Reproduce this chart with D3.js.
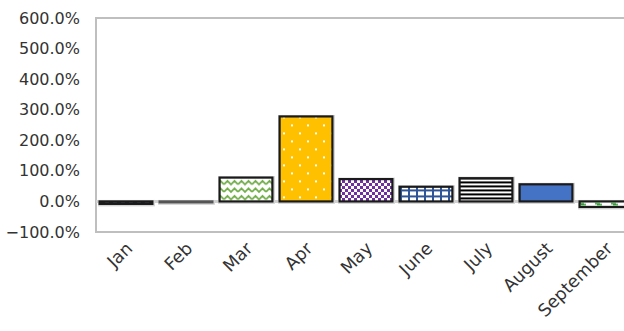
<!DOCTYPE html>
<html>
<head>
<meta charset="utf-8">
<script src="https://cdn.jsdelivr.net/npm/d3@7"></script>
<style>
  html, body { margin: 0; padding: 0; background: #fff; }
  svg { display: block; font-family: "DejaVu Sans", Verdana, sans-serif; }
</style>
</head>
<body>
<svg id="chart" width="624" height="331"></svg>
<script>
// Monthly change, as fractions (1 = 100%)
const months = ["Jan", "Feb", "Mar", "Apr", "May", "June", "July", "August", "September"];
const changes = [-0.08, -0.03, 0.78, 2.78, 0.73, 0.48, 0.76, 0.56, -0.18];
const yTicks = [-1, 0, 1, 2, 3, 4, 5, 6];
const fills = ["url(#pJan)", "url(#pFeb)", "url(#pMar)", "url(#pApr)", "url(#pMay)",
               "url(#pJun)", "url(#pJul)", "#4472C4", "url(#pSep)"];

const svg = d3.select("#chart");
const plot = { left: 96, top: 18, right: 636, bottom: 232 };

const x = d3.scaleBand().domain(months).range([plot.left, plot.right]).paddingInner(0.12).paddingOuter(0.06);
const y = d3.scaleLinear().domain([-1, 6]).range([plot.bottom, plot.top]);
const y0 = y(0);

// ---- fill patterns ----
const defs = svg.append("defs");
function pat(id, w, h, bg, oy) {
  const p = defs.append("pattern").attr("id", id).attr("patternUnits", "userSpaceOnUse")
    .attr("width", w).attr("height", h).attr("y", oy || 0);
  p.append("rect").attr("width", w).attr("height", h).attr("fill", bg);
  return p;
}
// Jan: dark with muted dashes
pat("pJan", 8, 4, "#2b2b2b", y0).append("rect").attr("x", 1).attr("y", 1).attr("width", 4).attr("height", 1).attr("fill", "#6d7f99");
// Feb: gray
pat("pFeb", 4, 4, "#7f7f7f");
// Mar: green zigzag
pat("pMar", 14, 7.5, "#fff", y0).append("path").attr("d", "M0,5.5 L3.5,2 L7,5.5 L10.5,2 L14,5.5")
  .attr("fill", "none").attr("stroke", "#70AD47").attr("stroke-width", 1.8);
// Apr: gold with white dots
{
  const p = pat("pApr", 16, 16, "#FFC000", y0);
  p.append("rect").attr("x", 3).attr("y", 3).attr("width", 2).attr("height", 2).attr("fill", "#fff");
  p.append("rect").attr("x", 11).attr("y", 11).attr("width", 2).attr("height", 2).attr("fill", "#fff");
}
// May: purple checkerboard
{
  const p = pat("pMay", 6, 6, "#fff");
  p.append("rect").attr("width", 3).attr("height", 3).attr("fill", "#7030A0");
  p.append("rect").attr("x", 3).attr("y", 3).attr("width", 3).attr("height", 3).attr("fill", "#7030A0");
}
// June: blue grid
{
  const p = pat("pJun", 8, 6, "#fff", y0);
  p.append("rect").attr("x", 0).attr("y", 0).attr("width", 8).attr("height", 2).attr("fill", "#2F5597");
  p.append("rect").attr("x", 0).attr("y", 0).attr("width", 2).attr("height", 6).attr("fill", "#2F5597");
}
// July: black horizontal stripes
pat("pJul", 4, 4, "#fff", y0).append("rect").attr("y", 0).attr("width", 4).attr("height", 2).attr("fill", "#000");
// September: white with green dashes
pat("pSep", 16, 6, "#fff", y0).append("path").attr("d", "M3,1.5 L8,1.5 L8,2.5 L10,2.5 L10,4 L5,4 L5,3 L3,3 Z").attr("fill", "#2ca02c");

// ---- plot frame ----
svg.append("rect")
  .attr("x", plot.left).attr("y", plot.top)
  .attr("width", plot.right - plot.left).attr("height", plot.bottom - plot.top)
  .attr("fill", "none").attr("stroke", "#bfbfbf").attr("stroke-width", 2);

// zero line
svg.append("line")
  .attr("x1", plot.left).attr("x2", plot.right)
  .attr("y1", y0).attr("y2", y0)
  .attr("stroke", "#d0d0d0").attr("stroke-width", 3);

// ---- bars ----
const bars = svg.append("g").selectAll("g").data(months).join("g");
// soft gray halo under each bar
bars.append("rect")
  .attr("x", d => x(d)).attr("width", x.bandwidth())
  .attr("y", (d, i) => y(Math.max(0, changes[i])))
  .attr("height", (d, i) => Math.abs(y(changes[i]) - y0))
  .attr("fill", "none").attr("stroke", "#d4d4d4").attr("stroke-width", 4)
  .attr("transform", "translate(0.5,0.5)");
bars.append("rect")
  .attr("x", d => x(d)).attr("width", x.bandwidth())
  .attr("y", (d, i) => y(Math.max(0, changes[i])))
  .attr("height", (d, i) => Math.abs(y(changes[i]) - y0))
  .attr("fill", (d, i) => fills[i])
  .attr("stroke", (d, i) => i === 1 ? "#555" : "#1a1a1a")
  .attr("stroke-width", 2.2);

// ---- y axis ----
const yAxis = svg.append("g")
  .attr("transform", `translate(${plot.left},0)`)
  .call(d3.axisLeft(y).tickValues(yTicks).tickFormat(d3.format(".1%")).tickSize(0).tickPadding(16));
yAxis.select(".domain").remove();
yAxis.selectAll("text").attr("font-size", 16).attr("fill", "#333")
  .attr("font-family", "'DejaVu Sans', Verdana, sans-serif");

// ---- x axis ----
const xAxis = svg.append("g")
  .attr("transform", `translate(0,${plot.bottom})`)
  .call(d3.axisBottom(x).tickSize(0).tickFormat(d => d));
xAxis.select(".domain").remove();
xAxis.selectAll("text")
  .attr("font-size", 17.5).attr("fill", "#333")
  .attr("font-family", "'DejaVu Sans', Verdana, sans-serif")
  .attr("text-anchor", "end")
  .attr("dy", null).attr("y", 0)
  .attr("transform", "translate(4,14) rotate(-45)")
  .attr("dominant-baseline", "middle");
</script>
</body>
</html>
